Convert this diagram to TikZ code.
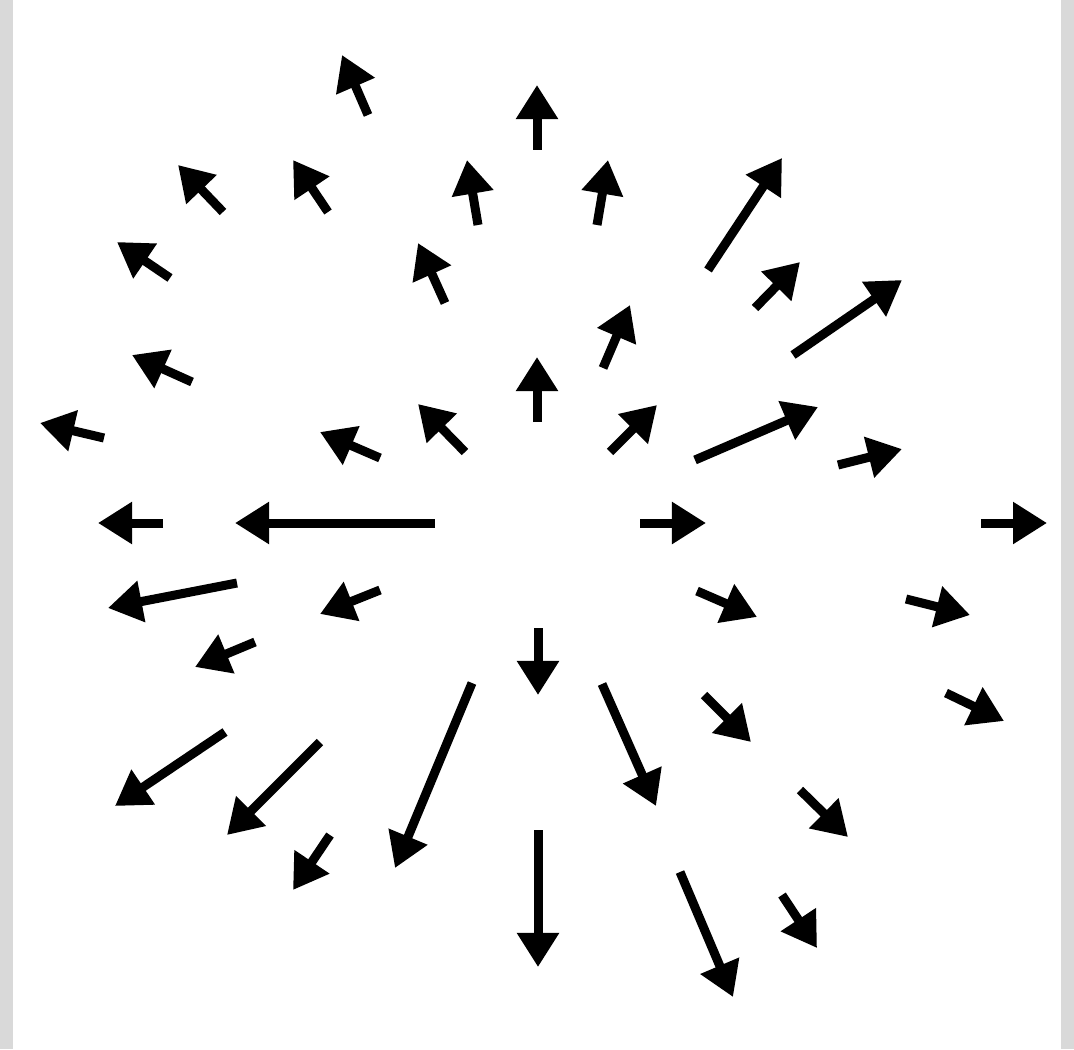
\documentclass[tikz,border=0pt]{standalone}
\usetikzlibrary{arrows.meta}
\definecolor{framegray}{RGB}{217,217,217}
\begin{document}
\begin{tikzpicture}[x=0.01cm,y=-0.01cm,
  vec/.style={line width=0.09cm,-{Triangle[length=0.34cm,width=0.40cm]}}]
\useasboundingbox (0,0) rectangle (1074,1049);
\fill[white] (0,0) rectangle (1074,1049);
\fill[framegray] (0,0) rectangle (13,1049);
\fill[framegray] (1061,0) rectangle (1074,1049);
% upper left
\draw[vec] (368,115) -- (342,55);
\draw[vec] (223,212) -- (178,165);
\draw[vec] (328,212) -- (293,160);
\draw[vec] (170,278) -- (117,242);
\draw[vec] (445,303) -- (418,243);
\draw[vec] (192,382) -- (132,355);
\draw[vec] (104,438) -- (40,423);
\draw[vec] (380,458) -- (320,432);
\draw[vec] (465,452) -- (418,404);
% upper
\draw[vec] (537,150) -- (537,85);
\draw[vec] (478,225) -- (467,160);
\draw[vec] (597,225) -- (608,160);
\draw[vec] (537,422) -- (537,357);
% upper right
\draw[vec] (708,270) -- (782,158);
\draw[vec] (755,308) -- (800,262);
\draw[vec] (793,355) -- (902,280);
\draw[vec] (603,368) -- (630,305);
\draw[vec] (610,452) -- (657,405);
\draw[vec] (695,460) -- (818,407);
\draw[vec] (838,465) -- (902,449);
% horizontal
\draw[vec] (163,523) -- (98,523);
\draw[vec] (435,523) -- (235,523);
\draw[vec] (640,523) -- (706,523);
\draw[vec] (981,523) -- (1047,523);
% lower left
\draw[vec] (237,583) -- (108,608);
\draw[vec] (380,590) -- (320,614);
\draw[vec] (255,642) -- (195,667);
\draw[vec] (472,683) -- (395,868);
\draw[vec] (225,732) -- (115,806);
\draw[vec] (320,742) -- (227,835);
\draw[vec] (330,835) -- (293,890);
% down
\draw[vec] (538,628) -- (538,695);
\draw[vec] (538,830) -- (538,967);
% lower right
\draw[vec] (697,591) -- (757,617);
\draw[vec] (906,599) -- (970,615);
\draw[vec] (602,684) -- (656,806);
\draw[vec] (704,695) -- (751,742);
\draw[vec] (946,693) -- (1004,721);
\draw[vec] (800,790) -- (848,837);
\draw[vec] (680,872) -- (733,997);
\draw[vec] (782,895) -- (817,948);
\end{tikzpicture}
\end{document}
